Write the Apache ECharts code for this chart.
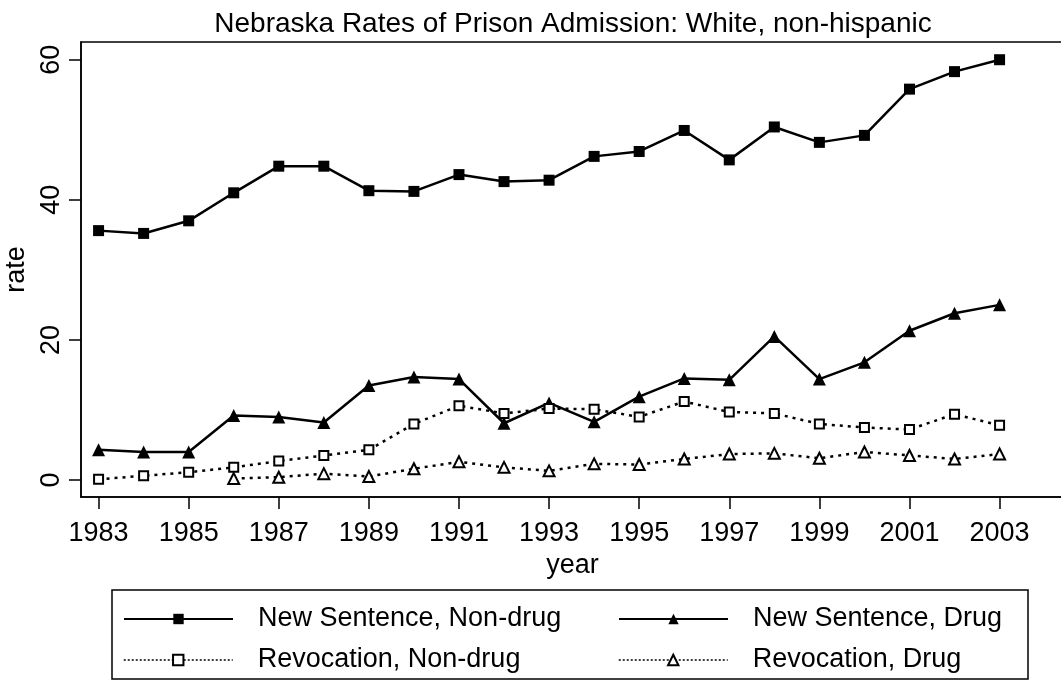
<!DOCTYPE html>
<html>
<head>
<meta charset="utf-8">
<title>Nebraska Rates of Prison Admission</title>
<script src="https://cdn.jsdelivr.net/npm/echarts@6/dist/echarts.min.js"></script>
<style>
html, body { margin: 0; padding: 0; background: #fff; }
#chartContainer { width: 1061px; height: 681px; }
</style>
</head>
<body>
<div id="chartContainer"></div>
<script>
// data
var years = [1983, 1984, 1985, 1986, 1987, 1988, 1989, 1990, 1991, 1992, 1993,
             1994, 1995, 1996, 1997, 1998, 1999, 2000, 2001, 2002, 2003];
var newNonDrug = [35.6, 35.2, 37.0, 41.0, 44.8, 44.8, 41.3, 41.2, 43.6, 42.6, 42.8,
                  46.2, 46.9, 49.9, 45.7, 50.4, 48.2, 49.2, 55.8, 58.3, 60.0];
var newDrug = [4.3, 4.0, 4.0, 9.2, 9.0, 8.2, 13.5, 14.7, 14.4, 8.1, 11.0,
               8.3, 11.9, 14.5, 14.3, 20.5, 14.4, 16.8, 21.3, 23.8, 25.0];
var revNonDrug = [0.1, 0.6, 1.1, 1.8, 2.7, 3.5, 4.3, 8.0, 10.6, 9.5, 10.2,
                  10.1, 9.0, 11.2, 9.7, 9.5, 8.0, 7.5, 7.2, 9.4, 7.8];
var revDrug = [null, null, null, 0.2, 0.4, 0.9, 0.5, 1.6, 2.6, 1.8, 1.3,
               2.3, 2.2, 3.0, 3.7, 3.8, 3.1, 4.0, 3.5, 3.0, 3.7];
var xTicks = [1983, 1985, 1987, 1989, 1991, 1993, 1995, 1997, 1999, 2001, 2003];
var yTicks = [0, 20, 40, 60];
var names = ['New Sentence, Non-drug', 'New Sentence, Drug', 'Revocation, Non-drug', 'Revocation, Drug'];

var FONT = "'Liberation Sans', Arial, sans-serif";
var INK = '#000';

function pairs(vals) {
    return years.map(function (y, i) {
        return [y, vals[i] == null ? '-' : vals[i]];
    });
}

function plain(v) { return String(v); }

var myChart = echarts.init(document.getElementById('chartContainer'));

var dotted = [3, 5];

// one legend per cell so the two columns line up like the original
function legendAt(name, left, top, lineType, lineWidth) {
    return {
        data: [{ name: name, lineStyle: { width: lineWidth, type: lineType } }],
        left: left,
        top: top,
        padding: 0,
        itemWidth: 109,
        itemHeight: 13,
        selectedMode: false,
        textStyle: { fontFamily: FONT, fontSize: 27, color: INK, lineHeight: 30, padding: [0, 0, 0, 20] }
    };
}

var option = {
    backgroundColor: '#fff',
    animation: false,
    title: {
        text: 'Nebraska Rates of Prison Admission: White, non-hispanic',
        left: 568,
        top: 5,
        textAlign: 'center',
        textStyle: { fontFamily: FONT, fontSize: 28, fontWeight: 'normal', color: INK }
    },
    grid: {
        left: 81, right: -3, top: 42, bottom: 184,
        outerBoundsMode: 'none',
        containLabel: false,
        show: true, borderColor: INK, borderWidth: 1.5, backgroundColor: '#fff'
    },
    xAxis: {
        type: 'value',
        min: 1982.61,
        max: 2004.43,
        name: 'year',
        nameLocation: 'middle',
        nameGap: 47,
        nameTextStyle: { fontFamily: FONT, fontSize: 27, color: INK },
        axisLine: { show: true, onZero: false, lineStyle: { color: INK, width: 1.5 } },
        axisTick: { show: true, length: 12, customValues: xTicks, lineStyle: { color: INK, width: 1.5 } },
        axisLabel: { customValues: xTicks, formatter: plain, margin: 23, fontFamily: FONT, fontSize: 27, color: INK },
        splitLine: { show: false }
    },
    yAxis: {
        type: 'value',
        min: -2.43,
        max: 62.53,
        name: 'rate',
        nameLocation: 'middle',
        nameGap: 48,
        nameTextStyle: { fontFamily: FONT, fontSize: 27, color: INK },
        axisLine: { show: true, onZero: false, lineStyle: { color: INK, width: 1.5 } },
        axisTick: { show: true, length: 12, customValues: yTicks, lineStyle: { color: INK, width: 1.5 } },
        axisLabel: { customValues: yTicks, formatter: plain, rotate: 90, margin: 16, fontFamily: FONT, fontSize: 27, color: INK },
        splitLine: { show: false }
    },
    legend: [
        legendAt(names[0], 123, 604, 'solid', 2),
        legendAt(names[2], 123, 645, [2, 2], 1.5),
        legendAt(names[1], 618, 604, 'solid', 2),
        legendAt(names[3], 618, 645, [2, 2], 1.5)
    ],
    graphic: [{
        type: 'rect',
        shape: { x: 112, y: 590, width: 916, height: 89 },
        style: { fill: 'none', stroke: INK, lineWidth: 1.5 },
        z: -1
    }],
    series: [
        {
            name: names[0], type: 'line', data: pairs(newNonDrug),
            symbol: 'rect', symbolSize: 11,
            itemStyle: { color: INK },
            lineStyle: { color: INK, width: 2.5 }
        },
        {
            name: names[1], type: 'line', data: pairs(newDrug),
            symbol: 'triangle', symbolSize: 13,
            itemStyle: { color: INK },
            lineStyle: { color: INK, width: 2.5 }
        },
        {
            name: names[2], type: 'line', data: pairs(revNonDrug),
            symbol: 'emptyRect', symbolSize: 9,
            itemStyle: { color: INK, borderColor: INK, borderWidth: 3 },
            lineStyle: { color: INK, width: 2.5, type: dotted }
        },
        {
            name: names[3], type: 'line', data: pairs(revDrug),
            symbol: 'emptyTriangle', symbolSize: 11,
            itemStyle: { color: INK, borderColor: INK, borderWidth: 3 },
            lineStyle: { color: INK, width: 2.5, type: dotted }
        }
    ]
};

myChart.setOption(option);
</script>
</body>
</html>
